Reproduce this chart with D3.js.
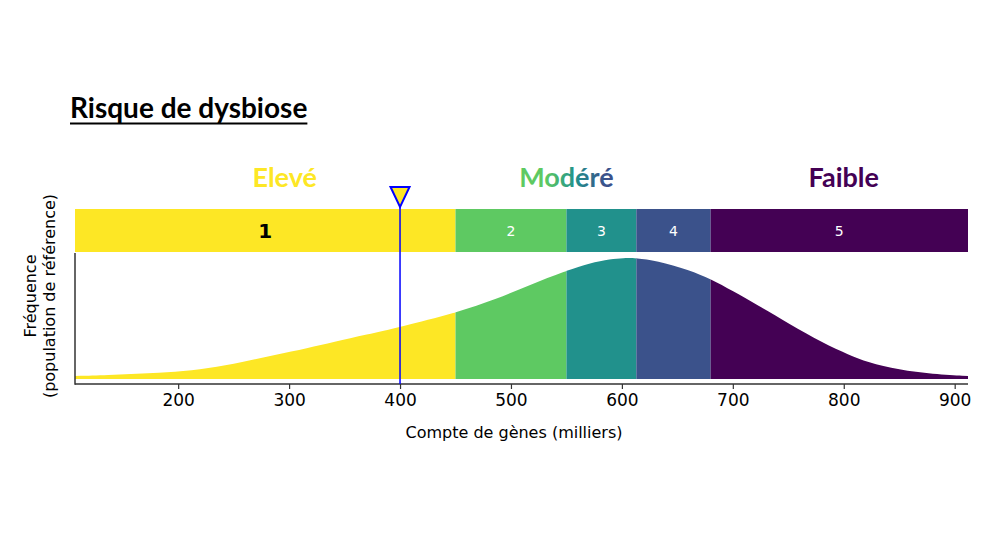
<!DOCTYPE html>
<html><head><meta charset="utf-8">
<script src="https://cdn.jsdelivr.net/npm/d3@7"></script>
<style>body{margin:0;background:#fff}</style>
</head><body><svg id="c" width="1000" height="550"></svg>
<script>
// ---- data ----
const densityX = [107,137,168,197,227,258,287,317,340,370,400,450,487,517,549,571,590,601,613,631,661,680,700,722,751,781,805,821,850,880,912];
const densityY = [3,4,5.5,7,10.5,17,24,31,37,44.5,52,66,80,94,108,116,120,121,121,118.5,109,100,88,74,55,36,24,17,9,5,3];
const segmentBounds = [107,450,550,613,680,912];
const segmentLabels = ["1","2","3","4","5"];
const segmentColors = ["#fde725","#5ec962","#21918c","#3b528b","#440154"];
const xTicks = [200,300,400,500,600,700,800,900];
const riskLabels = ["Elevé","Modéré","Faible"];
const riskLabelPos = [296,550,800];
const riskColors = ["#fde725","url(#modGrad)","#440154"];
const markerValue = 400;
const titleText = "Risque de dysbiose";
const xLabel = "Compte de gènes (milliers)";
const yLabel = ["Fréquence","(population de référence)"];

// ---- layout ----
const svg = d3.select("#c");
const x = d3.scaleLinear().domain([107,912]).range([75,968]);
const y = d3.scaleLinear().domain([-5,126]).range([384,253]);
const barTop = 209, barBottom = 252;

const defs = svg.append("defs");
const g = defs.append("linearGradient").attr("id","modGrad")
  .attr("gradientUnits","userSpaceOnUse").attr("x1",517).attr("x2",614).attr("y1",0).attr("y2",0);
g.append("stop").attr("offset","0.3").attr("stop-color","#5ec962");
g.append("stop").attr("offset","0.6").attr("stop-color","#21918c");
g.append("stop").attr("offset","0.9").attr("stop-color","#3b528b");

const pts = densityX.map((d,i)=>[d,densityY[i]]);
const area = d3.area().x(d=>x(d[0])).y0(y(0)).y1(d=>y(d[1])).curve(d3.curveBasis);

const segs = segmentLabels.map((l,i)=>({label:l,lo:segmentBounds[i],hi:segmentBounds[i+1],color:segmentColors[i],i}));

segs.forEach(s=>{
  defs.append("clipPath").attr("id","clip"+s.i).append("rect")
    .attr("x",x(s.lo)).attr("width",x(s.hi)-x(s.lo)).attr("y",0).attr("height",550);
  svg.append("path").datum(pts).attr("d",area).attr("fill",s.color).attr("clip-path",`url(#clip${s.i})`);
});

// bar
svg.selectAll("rect.seg").data(segs).join("rect").attr("class","seg")
  .attr("x",d=>x(d.lo)).attr("width",d=>x(d.hi)-x(d.lo))
  .attr("y",barTop).attr("height",barBottom-barTop).attr("fill",d=>d.color);
svg.selectAll("text.seglab").data(segs).join("text").attr("class","seglab")
  .attr("x",d=>(x(d.lo)+x(d.hi))/2).attr("y",(barTop+barBottom)/2)
  .attr("dy","0.36em").attr("text-anchor","middle")
  .attr("font-family","DejaVu Sans")
  .attr("font-size",d=>d.i===0?20:14)
  .attr("font-weight",d=>d.i===0?"bold":"normal")
  .attr("fill",d=>d.i===0?"#000":"#fff")
  .text(d=>d.label);

// axes
const xAxis = d3.axisBottom(x).tickValues(xTicks).tickSize(5).tickPadding(5).tickFormat(d3.format("d"));
const ax = svg.append("g").attr("transform","translate(0,384)").call(xAxis);
ax.select(".domain").attr("stroke","#333").attr("stroke-width",1.5).attr("d","M75,0H968");
ax.selectAll(".tick line").attr("stroke","#333").attr("stroke-width",1.2);
ax.selectAll(".tick text").attr("font-family","DejaVu Sans").attr("font-size",17).attr("fill","#000");
svg.append("line").attr("x1",75).attr("x2",75).attr("y1",253).attr("y2",384.7).attr("stroke","#333").attr("stroke-width",1.5);

svg.append("text").attr("x",514).attr("y",438).attr("text-anchor","middle")
  .attr("font-family","DejaVu Sans").attr("font-size",16).text(xLabel);
yLabel.forEach((t,i)=>{
  svg.append("text").attr("transform",`translate(${36+i*19},296) rotate(-90)`)
    .attr("text-anchor","middle").attr("font-family","DejaVu Sans").attr("font-size",16).text(t);
});

// marker
svg.append("line").attr("x1",x(markerValue)).attr("x2",x(markerValue)).attr("y1",200).attr("y2",384)
  .attr("stroke","#0000ff").attr("stroke-width",1.5);
const mx = x(markerValue);
svg.append("path").attr("d",`M${mx-9.5},187L${mx+9.5},187L${mx},207Z`)
  .attr("fill","#fde725").attr("stroke","#0000ff").attr("stroke-width",2).attr("stroke-linejoin","miter");

// risk labels
riskLabels.forEach((t,i)=>{
  svg.append("text").attr("x",x(riskLabelPos[i])).attr("y",187).attr("text-anchor","middle")
    .attr("font-family","Lato").attr("font-weight","bold").attr("font-size",27)
    .attr("fill",riskColors[i]).text(t);
});

// title
const tt = svg.append("text").attr("x",70).attr("y",118).attr("font-family","Lato")
  .attr("font-weight","bold").attr("font-size",28).attr("fill","#000").text(titleText);
const bb = tt.node().getBBox();
svg.append("line").attr("x1",70).attr("x2",70+bb.width).attr("y1",123.5).attr("y2",123.5)
  .attr("stroke","#000").attr("stroke-width",2.2);
</script></body></html>
